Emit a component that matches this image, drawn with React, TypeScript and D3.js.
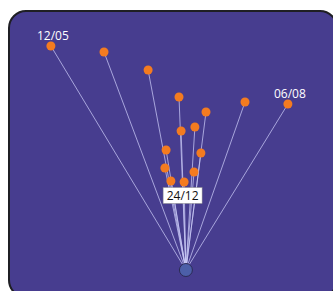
import React, { useEffect, useRef } from "react";
import * as d3 from "d3";

const labels = ["12/05", "", "", "", "", "", "06/08", "", "", "", "", "", "", "", "24/12"];
const xValues = [10.3, 28, 42.7, 53, 62, 75, 89.3, 53.7, 58.3, 48.7, 60.3, 48.3, 58, 50.3, 54.7];
const yValues = [93.6, 91.2, 84, 73.2, 67.2, 71.2, 70.4, 59.6, 61.2, 52, 50.8, 44.8, 43.2, 39.6, 39.2];
const hub = { x: 55.3, y: 4 };
const boxedLabels = ["24/12"];

export default function App() {
  const ref = useRef<SVGSVGElement>(null);
  useEffect(() => {
    const svg = d3.select(ref.current);
    svg.selectAll("*").remove();
    const x = d3.scaleLinear().domain([0, 100]).range([20, 320]);
    const y = d3.scaleLinear().domain([0, 100]).range([280, 30]);

    svg.append("rect")
      .attr("x", 9).attr("y", 11).attr("width", 328).attr("height", 286)
      .attr("rx", 17).attr("ry", 17)
      .attr("fill", "#473d8f").attr("stroke", "#1f1f24").attr("stroke-width", 2);

    const pts = xValues.map((v, i) => ({ x: v, y: yValues[i], label: labels[i] }));

    svg.append("g").selectAll("line").data(pts).join("line")
      .attr("x1", x(hub.x)).attr("y1", y(hub.y))
      .attr("x2", (d) => x(d.x)).attr("y2", (d) => y(d.y))
      .attr("stroke", "#c8c8f5").attr("stroke-opacity", 0.75).attr("stroke-width", 1);

    svg.append("g").selectAll("circle").data(pts).join("circle")
      .attr("cx", (d) => x(d.x)).attr("cy", (d) => y(d.y)).attr("r", 4.5)
      .attr("fill", "#f47b20");

    svg.append("circle")
      .attr("cx", x(hub.x)).attr("cy", y(hub.y)).attr("r", 6.5)
      .attr("fill", "#4c5fa8").attr("stroke", "#2b2b55").attr("stroke-width", 1);

    const lab = pts.filter((d) => d.label && !boxedLabels.includes(d.label));
    svg.append("g").selectAll("text").data(lab).join("text")
      .attr("x", (d) => x(d.x) + 2).attr("y", (d) => y(d.y) - 6)
      .attr("text-anchor", "middle")
      .attr("font-family", "'Open Sans', sans-serif").attr("font-size", 12)
      .attr("fill", "#ffffff").text((d) => d.label);

    const boxed = pts.filter((d) => boxedLabels.includes(d.label));
    const g = svg.append("g").selectAll("g").data(boxed).join("g");
    g.append("rect")
      .attr("x", (d) => x(d.x) - 21).attr("y", (d) => y(d.y) + 5.5)
      .attr("width", 39).attr("height", 16)
      .attr("fill", "#ffffff").attr("stroke", "#888").attr("stroke-width", 0.5);
    g.append("text")
      .attr("x", (d) => x(d.x) - 1.5).attr("y", (d) => y(d.y) + 18)
      .attr("text-anchor", "middle")
      .attr("font-family", "'Open Sans', sans-serif").attr("font-size", 12)
      .attr("fill", "#111").text((d) => d.label);
  }, []);
  return (
    <svg ref={ref} width={333} height={291}
      style={{ position: "absolute", left: 0, top: 0, display: "block" }} />
  );
}
